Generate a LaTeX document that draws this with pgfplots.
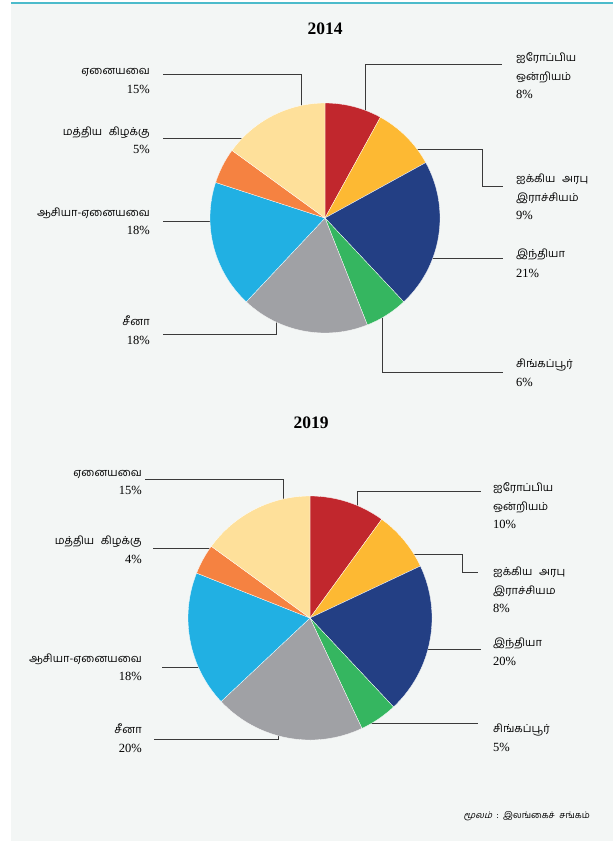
\documentclass[border=0pt]{standalone}
\usepackage{fontspec}
\setmainfont{Liberation Serif}
\newfontfamily\ta[Script=Tamil]{Hind Madurai}
\newfontfamily\tasl[Script=Tamil,FakeSlant=0.25]{Hind Madurai}
\usepackage{pgfplots}
\usepackage{pgfplotstable}
\pgfplotsset{compat=1.18}

\definecolor{bg}{HTML}{F3F6F5}
\definecolor{topline}{HTML}{4BBBCB}
\definecolor{slice0}{HTML}{C1272D}% EU
\definecolor{slice1}{HTML}{FDB933}% UAE
\definecolor{slice2}{HTML}{233F84}% India
\definecolor{slice3}{HTML}{35B660}% Singapore
\definecolor{slice4}{HTML}{A0A1A5}% China
\definecolor{slice5}{HTML}{21B0E3}% Asia other
\definecolor{slice6}{HTML}{F58241}% Middle East
\definecolor{slice7}{HTML}{FEE09A}% Other
\definecolor{leader}{HTML}{3A3A3A}

% shares in percent, clockwise from 12 o'clock
\pgfplotstableread{
region     y2014 y2019
EU         8     10
UAE        9     8
India      21    20
Singapore  6     5
China      18    20
AsiaOther  18    18
MiddleEast 5     4
Other      15    15
}\shares

\newcommand\pie[4]{% column, centre x, centre y, radius
  \def\angA{90}%
  \pgfplotsforeachungrouped \i in {0,...,7}{%
    \pgfplotstablegetelem{\i}{#1}\of\shares
    \pgfmathsetmacro\angB{\angA-3.6*\pgfplotsretval}%
    \edef\temp{\noexpand\fill[slice\i, draw=white, line width=0.3pt]
      (axis cs:#2,#3) -- ++(\angA:#4pt)
      arc[start angle=\angA, end angle=\angB, radius=#4pt] -- cycle;}%
    \temp
    \let\angA\angB
  }%
}
\newcommand\tamfont{\ta\fontsize{11}{13}\selectfont}
\newcommand\numfont{\fontsize{12.5}{14}\selectfont}
\newcommand\tl[4]{\node[anchor=base #1, inner sep=0pt, font=\tamfont] at (axis cs:#2,#3) {#4};}
\newcommand\nl[4]{\node[anchor=base #1, inner sep=0pt, font=\numfont] at (axis cs:#2,#3) {#4};}

\begin{document}
\begin{tikzpicture}
  \useasboundingbox (0,0) rectangle (613pt,841pt);
  \fill[white] (0,0) rectangle (613pt,841pt);
  \fill[bg] (11pt,0) rectangle (613pt,837pt);
  \fill[topline] (11pt,836.5pt) rectangle (613pt,839pt);
  \begin{axis}[
      at={(0,0)}, anchor=south west,
      x=1pt, y=1pt,
      xmin=0, xmax=613, ymin=0, ymax=841,
      y dir=reverse,
      hide axis, clip=false]

    % ---- 2014 ----
    \node[font=\bfseries\fontsize{17.5}{20}\selectfont, anchor=base] at (axis cs:325,34) {2014};
    \draw[leader, line width=0.9pt]
      (axis cs:163,74) -- (axis cs:301,74) -- (axis cs:301,110)
      (axis cs:163,138) -- (axis cs:250,138)
      (axis cs:163,221) -- (axis cs:215,221)
      (axis cs:163,334) -- (axis cs:276,334) -- (axis cs:276,318)
      (axis cs:365,115) -- (axis cs:365,64) -- (axis cs:502,64)
      (axis cs:412,149) -- (axis cs:482,149) -- (axis cs:482,186) -- (axis cs:503,186)
      (axis cs:428,258) -- (axis cs:503,258)
      (axis cs:382,312) -- (axis cs:382,372) -- (axis cs:503,372);
    \pie{y2014}{325}{218}{115}
    \tl{east}{150}{74.5}{ஏனையவை}
    \nl{east}{150}{93.5}{15\%}
    \tl{east}{150}{135.5}{மத்திய\hspace{0.6em}கிழக்கு}
    \nl{east}{150}{153.5}{5\%}
    \tl{east}{150}{216.5}{ஆசியா-ஏனையவை}
    \nl{east}{150}{234.5}{18\%}
    \tl{east}{150}{325.5}{சீனா}
    \nl{east}{150}{344.5}{18\%}
    \tl{west}{516}{61.5}{ஐரோப்பிய}
    \tl{west}{516}{80.5}{ஒன்றியம்}
    \nl{west}{516}{98.5}{8\%}
    \tl{west}{516}{182.5}{ஐக்கிய\hspace{0.6em}அரபு}
    \tl{west}{516}{201.5}{இராச்சியம்}
    \nl{west}{516}{219.5}{9\%}
    \tl{west}{516}{257.5}{இந்தியா}
    \nl{west}{516}{277.5}{21\%}
    \tl{west}{516}{367.5}{சிங்கப்பூர்}
    \nl{west}{516}{386.5}{6\%}

    % ---- 2019 ----
    \node[font=\bfseries\fontsize{17.5}{20}\selectfont, anchor=base] at (axis cs:311,428) {2019};
    \draw[leader, line width=0.9pt]
      (axis cs:145,479) -- (axis cs:283,479) -- (axis cs:283,505)
      (axis cs:153,548) -- (axis cs:218,548)
      (axis cs:162,667) -- (axis cs:203,667)
      (axis cs:154,739) -- (axis cs:278,739) -- (axis cs:278,728)
      (axis cs:357,510) -- (axis cs:357,491) -- (axis cs:481,491)
      (axis cs:410,554) -- (axis cs:462,554) -- (axis cs:462,572) -- (axis cs:478,572)
      (axis cs:425,649) -- (axis cs:481,649)
      (axis cs:367,723) -- (axis cs:478,723);
    \pie{y2019}{310}{618}{122}
    \tl{east}{142}{476.5}{ஏனையவை}
    \nl{east}{142}{494.5}{15\%}
    \tl{east}{142}{544.5}{மத்திய\hspace{0.6em}கிழக்கு}
    \nl{east}{142}{563.5}{4\%}
    \tl{east}{142}{662.5}{ஆசியா-ஏனையவை}
    \nl{east}{142}{680.5}{18\%}
    \tl{east}{142}{733.5}{சீனா}
    \nl{east}{142}{752.5}{20\%}
    \tl{west}{493}{491.5}{ஐரோப்பிய}
    \tl{west}{493}{510.5}{ஒன்றியம்}
    \nl{west}{493}{528.5}{10\%}
    \tl{west}{493}{575.5}{ஐக்கிய\hspace{0.6em}அரபு}
    \tl{west}{493}{594.5}{இராச்சியம}
    \nl{west}{493}{612.5}{8\%}
    \tl{west}{493}{646.5}{இந்தியா}
    \nl{west}{493}{665.5}{20\%}
    \tl{west}{493}{732.5}{சிங்கப்பூர்}
    \nl{west}{493}{751.5}{5\%}

    \node[anchor=base east, inner sep=0pt, font=\ta\fontsize{9}{11}\selectfont]
      at (axis cs:590,818) {{\tasl மூலம்}\hspace{0.5em}:\hspace{0.5em}இலங்கைச்\hspace{0.5em}சங்கம்};
  \end{axis}
\end{tikzpicture}
\end{document}
